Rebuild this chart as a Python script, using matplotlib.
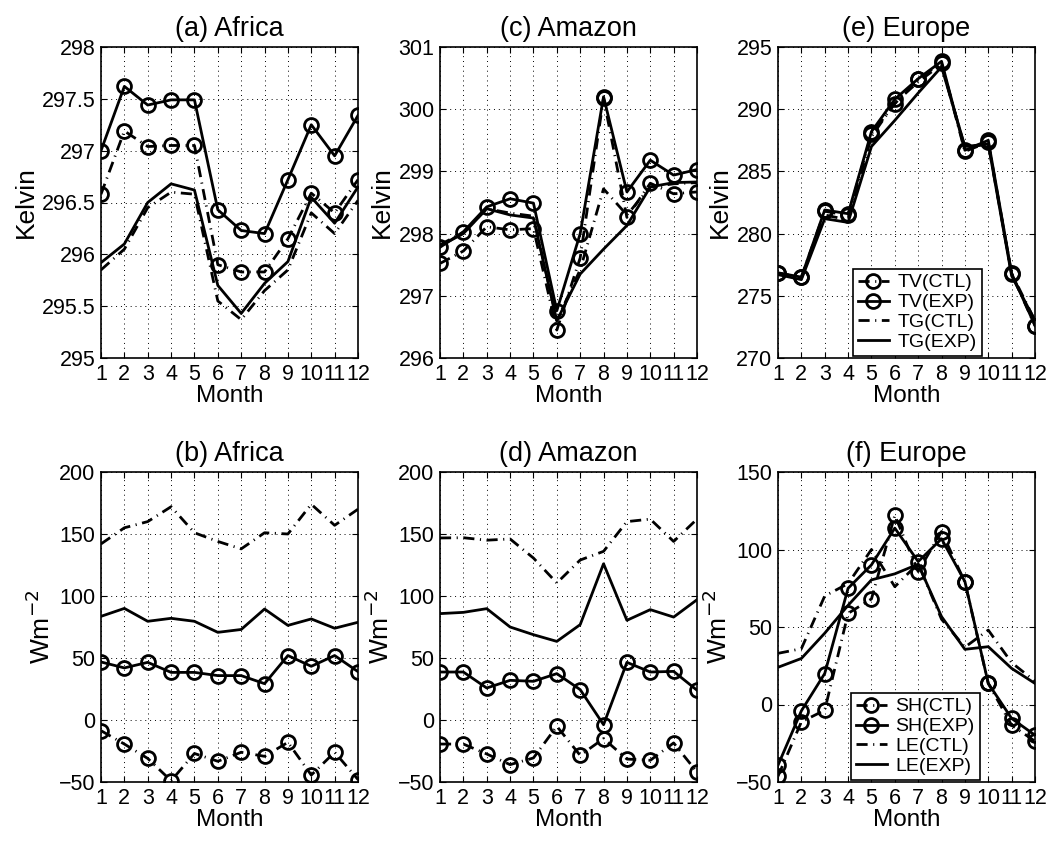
import matplotlib.pyplot as plt
from matplotlib.ticker import FuncFormatter

plt.rcParams['font.family'] = ['Liberation Sans', 'DejaVu Sans']

months = list(range(1, 13))

# temperatures (K): vegetation TV and ground TG
africa_tv_ctl = [296.58, 297.19, 297.04, 297.05, 297.05, 295.90, 295.83, 295.83, 296.15, 296.59, 296.40, 296.72]
africa_tv_exp = [297.00, 297.62, 297.44, 297.49, 297.49, 296.43, 296.23, 296.20, 296.72, 297.25, 296.95, 297.34]
africa_tg_ctl = [295.85, 296.05, 296.45, 296.60, 296.58, 295.55, 295.37, 295.65, 295.85, 296.40, 296.20, 296.52]
africa_tg_exp = [295.92, 296.10, 296.50, 296.68, 296.62, 295.70, 295.43, 295.72, 295.93, 296.55, 296.30, 296.65]

amazon_tv_ctl = [297.52, 297.72, 298.11, 298.06, 298.08, 296.45, 297.61, 300.18, 298.26, 298.81, 298.64, 298.67]
amazon_tv_exp = [297.78, 298.03, 298.43, 298.56, 298.49, 296.76, 298.00, 300.20, 298.67, 299.18, 298.94, 299.03]
amazon_tg_ctl = [297.82, 298.02, 298.40, 298.33, 298.28, 296.60, 297.42, 298.72, 298.30, 298.75, 298.80, 298.82]
amazon_tg_exp = [297.80, 298.00, 298.40, 298.30, 298.25, 296.60, 297.35, 297.75, 298.13, 298.75, 298.82, 298.83]

europe_tv_ctl = [276.82, 276.50, 281.80, 281.46, 288.03, 290.44, 292.45, 293.70, 286.60, 287.36, 276.77, 272.60]
europe_tv_exp = [276.85, 276.50, 281.90, 281.60, 288.20, 290.80, 292.45, 293.85, 286.70, 287.50, 276.80, 272.60]
europe_tg_ctl = [276.80, 276.40, 281.50, 281.10, 287.80, 290.50, 292.20, 293.60, 286.90, 287.20, 276.80, 273.00]
europe_tg_exp = [276.70, 276.30, 281.20, 280.90, 287.00, 289.10, 291.30, 293.40, 287.00, 287.20, 276.60, 273.00]

# surface fluxes (W m-2): sensible SH and latent LE
africa_sh_ctl = [-8.6, -19.4, -31.0, -49.0, -27.0, -33.3, -26.0, -29.3, -18.0, -44.4, -26.0, -48.0]
africa_sh_exp = [46.8, 42.0, 46.5, 38.4, 38.4, 35.8, 35.8, 29.3, 52.0, 43.3, 52.0, 39.0]
africa_le_ctl = [142.0, 155.0, 160.0, 172.0, 151.0, 144.0, 138.0, 151.0, 150.0, 174.0, 157.0, 170.0]
africa_le_exp = [83.6, 90.0, 79.6, 82.0, 79.6, 70.7, 73.0, 89.5, 76.3, 81.5, 74.0, 78.8]

amazon_sh_ctl = [-19.4, -19.4, -27.4, -36.0, -30.6, -5.1, -28.5, -15.0, -31.5, -32.5, -18.5, -42.0]
amazon_sh_exp = [38.7, 38.7, 25.8, 32.0, 31.2, 37.4, 24.5, -3.8, 46.5, 38.7, 39.2, 24.0]
amazon_le_ctl = [146.8, 147.0, 145.0, 146.0, 130.6, 110.5, 129.0, 136.0, 160.0, 162.0, 144.0, 162.0]
amazon_le_exp = [85.8, 86.8, 89.8, 75.0, 68.8, 63.4, 76.9, 126.0, 80.4, 89.0, 83.0, 97.0]

europe_sh_ctl = [-46.3, -11.2, -3.7, 58.8, 68.1, 122.0, 85.8, 111.6, 78.9, 13.6, -13.4, -23.7]
europe_sh_exp = [-39.2, -4.1, 20.0, 75.0, 90.1, 113.8, 92.2, 106.9, 79.3, 13.6, -9.0, -19.8]
europe_le_ctl = [33.0, 36.0, 70.0, 78.0, 100.0, 76.0, 91.0, 55.0, 37.0, 48.0, 27.0, 15.0]
europe_le_exp = [24.0, 29.7, 46.0, 64.0, 80.4, 84.3, 90.5, 56.7, 35.6, 37.3, 23.3, 13.6]

W, H = 1048, 841
fig = plt.figure(figsize=(W / 100, H / 100), dpi=100)

lefts = [101, 440, 778]
top_row = (47, 358)
bot_row = (472, 782)


def make_ax(left, rows):
    top, bottom = rows
    return fig.add_axes([left / W, 1 - bottom / H, 257 / W, (bottom - top) / H])


dashdot = (0, (4, 2, 0.4, 2))
mk = dict(marker='o', markersize=10, markerfacecolor='none',
          markeredgecolor='k', markeredgewidth=2)


def fmt(v, pos):
    return f'{v:g}'.replace('-', '\u2212')


def draw(ax, a_ctl, a_exp, b_ctl, b_exp, names, title, ylabel, ylim, yticks):
    ax.plot(months, a_ctl, color='k', lw=2, linestyle=dashdot, label=names[0], **mk)
    ax.plot(months, a_exp, color='k', lw=2, linestyle='-', label=names[1], **mk)
    ax.plot(months, b_ctl, color='k', lw=2, linestyle=dashdot, label=names[2])
    ax.plot(months, b_exp, color='k', lw=2, linestyle='-', label=names[3])
    ax.set_xlim(1, 12)
    ax.set_ylim(*ylim)
    ax.set_xticks(months)
    ax.set_yticks(yticks)
    ax.yaxis.set_major_formatter(FuncFormatter(fmt))
    ax.grid(True, linestyle=(0, (1, 4)), color='k', linewidth=0.7)
    ax.tick_params(direction='in', length=4, width=0.8, top=True, right=True,
                   labelsize=15.5, pad=4)
    for sp in ax.spines.values():
        sp.set_linewidth(1.2)
    ax.set_title(title, fontsize=19.5, pad=8)
    ax.set_xlabel('Month', fontsize=17.5, labelpad=0)
    ax.set_ylabel(ylabel, fontsize=19, labelpad=3)


temp_names = ['TV(CTL)', 'TV(EXP)', 'TG(CTL)', 'TG(EXP)']
flux_names = ['SH(CTL)', 'SH(EXP)', 'LE(CTL)', 'LE(EXP)']
flux_ticks = [-50, 0, 50, 100, 150, 200]

ax_a = make_ax(lefts[0], top_row)
draw(ax_a, africa_tv_ctl, africa_tv_exp, africa_tg_ctl, africa_tg_exp, temp_names,
     '(a) Africa', 'Kelvin', (295, 298), [295, 295.5, 296, 296.5, 297, 297.5, 298])

ax_c = make_ax(lefts[1], top_row)
draw(ax_c, amazon_tv_ctl, amazon_tv_exp, amazon_tg_ctl, amazon_tg_exp, temp_names,
     '(c) Amazon', 'Kelvin', (296, 301), [296, 297, 298, 299, 300, 301])

ax_e = make_ax(lefts[2], top_row)
draw(ax_e, europe_tv_ctl, europe_tv_exp, europe_tg_ctl, europe_tg_exp, temp_names,
     '(e) Europe', 'Kelvin', (270, 295), [270, 275, 280, 285, 290, 295])

ax_b = make_ax(lefts[0], bot_row)
draw(ax_b, africa_sh_ctl, africa_sh_exp, africa_le_ctl, africa_le_exp, flux_names,
     '(b) Africa', 'Wm$^{-2}$', (-50, 200), flux_ticks)

ax_d = make_ax(lefts[1], bot_row)
draw(ax_d, amazon_sh_ctl, amazon_sh_exp, amazon_le_ctl, amazon_le_exp, flux_names,
     '(d) Amazon', 'Wm$^{-2}$', (-50, 200), flux_ticks)

ax_f = make_ax(lefts[2], bot_row)
draw(ax_f, europe_sh_ctl, europe_sh_exp, europe_le_ctl, europe_le_exp, flux_names,
     '(f) Europe', 'Wm$^{-2}$', (-50, 150), [-50, 0, 50, 100, 150])

for ax, x0 in ((ax_e, 0.284), (ax_f, 0.276)):
    leg = ax.legend(loc='lower left', bbox_to_anchor=(x0, 0.0), fontsize=14,
                    fancybox=False, framealpha=1, edgecolor='k',
                    handlelength=1.6, handletextpad=0.45, labelspacing=0.12,
                    borderpad=0.25, borderaxespad=0.1)
    leg.get_frame().set_linewidth(1.2)

fig.savefig('out.png', dpi=100)
